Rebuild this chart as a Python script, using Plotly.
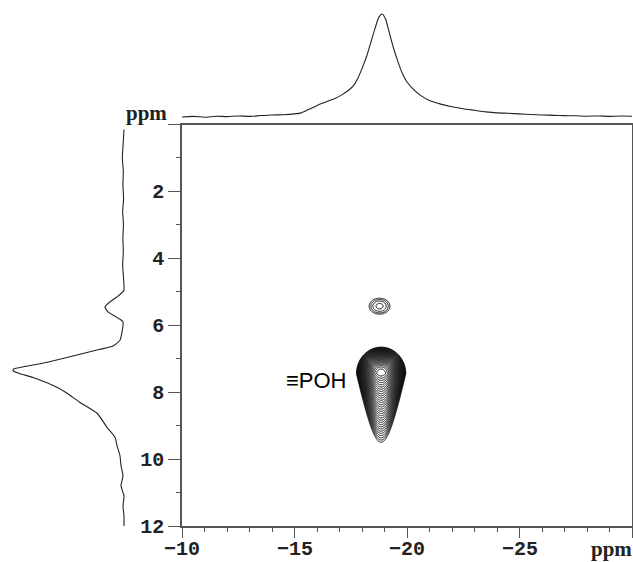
import numpy as np
import plotly.graph_objects as go

# ---- 31P (F2) projection: chemical shift (ppm) and normalised intensity ----
f2_ppm = [-10.0, -10.5, -11.0, -11.5, -12.0, -12.5, -13.0, -13.5, -14.0, -14.5,
          -15.0, -15.3, -15.6, -15.9, -16.2, -16.5, -16.8, -17.1, -17.4, -17.6,
          -17.8, -18.0, -18.2, -18.4, -18.6, -18.75, -18.9, -19.05, -19.2, -19.4,
          -19.6, -19.8, -20.0, -20.3, -20.6, -21.0, -21.5, -22.0, -22.5, -23.0,
          -23.5, -24.0, -24.5, -25.0, -25.5, -26.0, -26.5, -27.0, -27.5, -28.0,
          -28.5, -29.0, -29.5, -30.0]
f2_int = [0.000, 0.006, -0.003, 0.008, 0.004, 0.010, 0.006, 0.014, 0.020, 0.022,
          0.030, 0.040, 0.070, 0.100, 0.130, 0.155, 0.180, 0.215, 0.260, 0.300,
          0.370, 0.470, 0.585, 0.730, 0.875, 0.970, 1.000, 0.950, 0.830, 0.670,
          0.535, 0.420, 0.340, 0.265, 0.210, 0.160, 0.125, 0.100, 0.080, 0.065,
          0.050, 0.040, 0.036, 0.030, 0.024, 0.020, 0.016, 0.013, 0.012, 0.008,
          0.010, 0.006, 0.009, 0.007]

# ---- 1H (F1) projection: chemical shift (ppm) and normalised intensity ----
f1_ppm = [0.15, 0.6, 1.0, 1.4, 1.8, 2.2, 2.6, 3.0, 3.4, 3.8, 4.2, 4.6, 4.96,
          5.15, 5.3, 5.45, 5.6, 5.75, 5.9, 6.2, 6.45, 6.62, 6.72, 6.85, 7.0,
          7.15, 7.25, 7.3, 7.36, 7.45, 7.56, 7.86, 8.04, 8.3, 8.63, 9.05, 9.35,
          9.6, 9.9, 10.2, 10.5, 10.8, 11.1, 11.4, 11.7, 12.0]
f1_int = [0.000, 0.008, 0.015, 0.006, 0.010, 0.004, 0.012, 0.005, 0.010, 0.006,
          0.012, 0.004, 0.002, 0.063, 0.126, 0.171, 0.144, 0.072, 0.009, 0.018,
          0.036, 0.099, 0.216, 0.378, 0.560, 0.757, 0.920, 0.990, 1.000, 0.937,
          0.820, 0.600, 0.510, 0.400, 0.243, 0.153, 0.081, 0.063, 0.036, 0.027,
          0.009, 0.027, 0.000, 0.009, 0.000, 0.000]

# ---- 2D cross peaks (HETCOR) ----
peak_f2 = [-18.85, -18.78]        # 31P centre, ppm
peak_f1 = [7.45, 5.43]            # 1H centre, ppm
peak_amp = [1.0, 0.0040]          # relative amplitude
peak_w2 = [0.44, 0.56]            # F2 width, ppm
peak_w1_up = [0.32, 0.29]         # F1 width on the low-ppm side
peak_w1_down = [0.33, 0.29]       # F1 width on the high-ppm side
peak_tail_pow = [1.0, 2.0]        # shape exponent of the high-ppm side
peak_taper = [0.08, 0.0]          # F2 narrowing per ppm toward high ppm

x_ticks = [-10, -15, -20, -25, -30]
x_ticktext = ["\u221210", "\u221215", "\u221220", "\u221225", ""]
y_ticks = [0, 2, 4, 6, 8, 10, 12]
y_ticktext = ["", "2", "4", "6", "8", "10", "12"]

# ---- build the 2D surface ----
xg = np.arange(-17.2, -20.6, -0.008)
yg = np.arange(4.9, 9.8, 0.008)
X, Y = np.meshgrid(xg, yg)
Z = np.zeros_like(X)
for c2, c1, a, w2, wu, wd, p, t in zip(peak_f2, peak_f1, peak_amp, peak_w2,
                                        peak_w1_up, peak_w1_down, peak_tail_pow,
                                        peak_taper):
    dy = Y - c1
    w2y = w2 * (1.0 - t * np.clip(dy, 0, None))
    dx = (X - c2) / w2y
    lg1 = np.where(dy < 0, (dy / wu) ** 2, (np.abs(dy) / wd) ** p)
    Z += a * np.exp(-(dx ** 2) - lg1)
LZ = np.round(np.log(np.maximum(Z, 1e-7)), 3)

W, H = 633, 562
px = lambda v: v / W
py = lambda v: (H - v) / H

axis_col = "#555555"
text_col = "#222222"
tick_font = dict(family="Liberation Mono", size=20, color=text_col, weight="bold")

fig = go.Figure()

fig.add_trace(go.Contour(
    x=xg, y=yg, z=LZ, xaxis="x", yaxis="y",
    contours=dict(start=-6.2, end=-0.2, size=0.2, coloring="lines"),
    colorscale=[[0, "black"], [1, "black"]],
    line=dict(width=1.0), showscale=False, hoverinfo="skip"))

fig.add_trace(go.Scatter(
    x=f2_ppm, y=f2_int, xaxis="x2", yaxis="y2", mode="lines",
    line=dict(color=text_col, width=1.1, shape="spline", smoothing=0.6),
    hoverinfo="skip", showlegend=False))

fig.add_trace(go.Scatter(
    x=f1_int, y=f1_ppm, xaxis="x3", yaxis="y3", mode="lines",
    line=dict(color=text_col, width=1.1, shape="spline", smoothing=0.6),
    hoverinfo="skip", showlegend=False))

dom_x = [px(182), px(632)]
dom_y = [py(526), py(124.5)]

fig.update_layout(
    width=W, height=H, autosize=False,
    margin=dict(l=0, r=0, t=0, b=0),
    paper_bgcolor="white", plot_bgcolor="white",
    showlegend=False,
    xaxis=dict(domain=dom_x, range=[-10, -30], anchor="y", automargin=False,
               tickvals=x_ticks, showticklabels=False,
               ticks="outside", ticklen=10, tickwidth=1.3, tickcolor=axis_col,
               minor=dict(dtick=1, ticks="outside", ticklen=4, tickwidth=1.1,
                          tickcolor=axis_col),
               showline=True, linecolor=axis_col, linewidth=1.6, mirror=True,
               showgrid=False, zeroline=False),
    yaxis=dict(domain=dom_y, range=[12, 0], anchor="x", automargin=False,
               tickvals=y_ticks, ticktext=y_ticktext,
               ticks="outside", ticklen=12, tickwidth=1.3, tickcolor=axis_col,
               minor=dict(dtick=1, ticks="outside", ticklen=4, tickwidth=1.1,
                          tickcolor=axis_col),
               showline=True, linecolor=axis_col, linewidth=1.6, mirror=True,
               showgrid=False, zeroline=False, tickfont=tick_font),
    xaxis2=dict(domain=dom_x, range=[-10, -30], anchor="y2", visible=False,
                automargin=False),
    yaxis2=dict(domain=[py(124), 1.0], range=[-7 / 103, 117 / 103],
                anchor="x2", visible=False, automargin=False),
    xaxis3=dict(domain=[0, px(130)], range=[124 / 111, -6 / 111],
                anchor="y3", visible=False, automargin=False),
    yaxis3=dict(domain=dom_y, range=[12, 0], anchor="x3", visible=False,
                automargin=False),
)

# x tick labels, placed at the axis tick values just below the ticks
for v, t in zip(x_ticks, x_ticktext):
    if t:
        fig.add_annotation(x=v, y=0.0, xref="x", yref="paper", text=t,
                           showarrow=False, xanchor="center", yanchor="bottom",
                           font=tick_font, borderpad=0)

fig.add_annotation(x=-15.96, y=7.65, xref="x", yref="y", text="\u2261POH",
                   showarrow=False, xanchor="center", yanchor="middle",
                   font=dict(family="Liberation Sans", size=22, color="black"))
fig.add_annotation(x=px(146), y=py(113), xref="paper", yref="paper", text="ppm",
                   showarrow=False, xanchor="center", yanchor="middle",
                   font=dict(family="Liberation Serif", size=21, color=text_col,
                             weight="bold"))
fig.add_annotation(x=1.0, y=0.0, xref="paper", yref="paper", text="ppm",
                   showarrow=False, xanchor="right", yanchor="bottom",
                   borderpad=0,
                   font=dict(family="Liberation Serif", size=21, color=text_col,
                             weight="bold"))

fig.write_html("out.html")
